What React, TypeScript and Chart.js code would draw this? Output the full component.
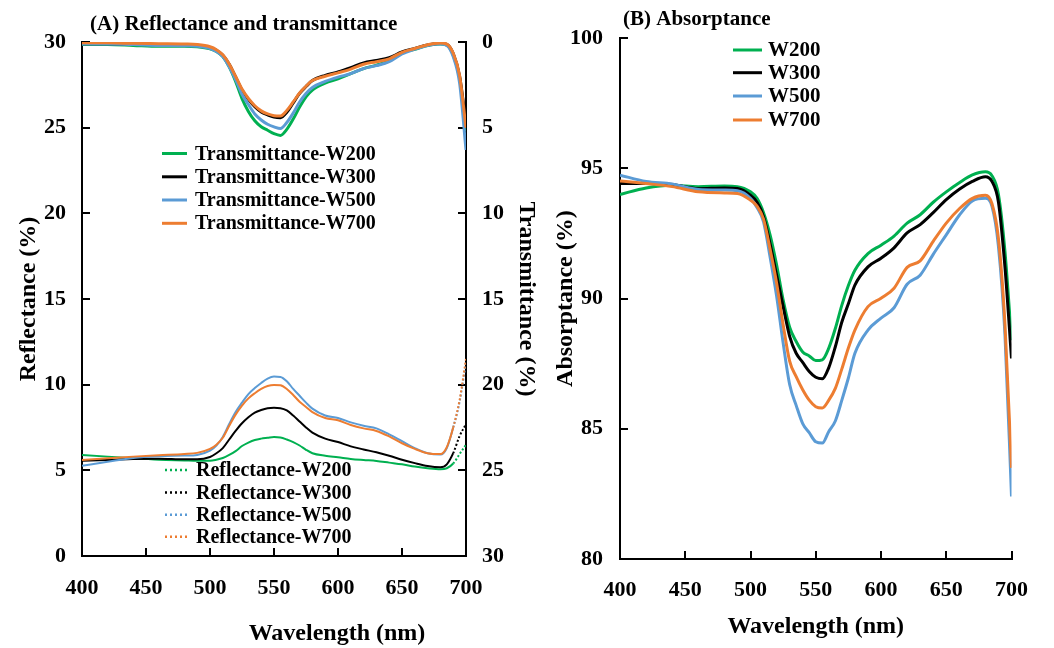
import React, { useEffect, useRef } from 'react';
import { Chart, registerables } from 'chart.js';

Chart.register(...registerables);

// ---------------- DATA ----------------
const wavelengths = [400, 420, 440, 460, 480, 490, 500, 505, 510, 515, 520, 525, 530, 535, 540, 545, 550, 555, 560, 565, 570, 575, 580, 590, 600, 610, 620, 630, 640, 650, 660, 670, 680, 685, 690, 695, 700];

const seriesNames = ['W200', 'W300', 'W500', 'W700'];

// Transmittance (%) – right axis, reversed
const transW200 = [0.15, 0.15, 0.2, 0.25, 0.25, 0.28, 0.4, 0.55, 0.85, 1.45, 2.3, 3.3, 4.05, 4.6, 4.95, 5.15, 5.35, 5.45, 5.1, 4.5, 3.8, 3.2, 2.8, 2.4, 2.15, 1.85, 1.55, 1.35, 1.1, 0.62, 0.42, 0.2, 0.12, 0.18, 0.75, 2.1, 5.2];
const transW300 = [0.1, 0.1, 0.12, 0.15, 0.18, 0.2, 0.32, 0.48, 0.78, 1.3, 2.05, 2.8, 3.35, 3.78, 4.08, 4.25, 4.38, 4.42, 4.1, 3.55, 3.0, 2.6, 2.25, 1.95, 1.75, 1.5, 1.22, 1.08, 0.92, 0.58, 0.38, 0.18, 0.08, 0.14, 0.68, 2.0, 4.8];
const transW500 = [0.12, 0.12, 0.15, 0.2, 0.22, 0.25, 0.38, 0.55, 0.85, 1.45, 2.2, 3.05, 3.65, 4.2, 4.55, 4.8, 4.95, 5.05, 4.7, 4.15, 3.5, 3.0, 2.65, 2.3, 2.05, 1.85, 1.55, 1.38, 1.15, 0.7, 0.42, 0.2, 0.12, 0.2, 0.85, 2.4, 6.3];
const transW700 = [0.05, 0.05, 0.08, 0.1, 0.12, 0.15, 0.28, 0.45, 0.75, 1.28, 2.0, 2.75, 3.3, 3.72, 4.02, 4.2, 4.3, 4.32, 4.0, 3.5, 2.98, 2.58, 2.25, 2.0, 1.8, 1.58, 1.3, 1.15, 0.98, 0.6, 0.38, 0.16, 0.06, 0.12, 0.65, 1.95, 5.0];

// Reflectance (%) – left axis
const reflW200 = [5.9, 5.8, 5.7, 5.62, 5.58, 5.56, 5.56, 5.62, 5.72, 5.9, 6.12, 6.42, 6.62, 6.77, 6.85, 6.9, 6.95, 6.92, 6.8, 6.65, 6.45, 6.2, 6.0, 5.85, 5.76, 5.66, 5.6, 5.55, 5.45, 5.35, 5.22, 5.12, 5.06, 5.12, 5.4, 5.95, 6.5];
const reflW300 = [5.56, 5.6, 5.66, 5.68, 5.64, 5.64, 5.78, 6.0, 6.3, 6.8, 7.3, 7.75, 8.1, 8.37, 8.52, 8.62, 8.65, 8.63, 8.5, 8.2, 7.85, 7.5, 7.2, 6.85, 6.65, 6.4, 6.22, 6.05, 5.85, 5.62, 5.42, 5.25, 5.18, 5.35, 6.0, 7.0, 7.7];
const reflW500 = [5.27, 5.5, 5.72, 5.82, 5.86, 5.9, 6.15, 6.45, 6.95, 7.7, 8.4, 8.95, 9.45, 9.8, 10.1, 10.35, 10.47, 10.45, 10.2, 9.75, 9.35, 8.95, 8.6, 8.2, 8.05, 7.8, 7.6, 7.45, 7.1, 6.7, 6.3, 6.0, 5.92, 6.3, 7.5, 9.0, 11.3];
const reflW700 = [5.6, 5.7, 5.8, 5.88, 5.95, 6.02, 6.25, 6.5, 6.9, 7.6, 8.25, 8.78, 9.2, 9.5, 9.75, 9.92, 9.98, 9.96, 9.75, 9.4, 9.0, 8.7, 8.4, 8.05, 7.92, 7.65, 7.45, 7.3, 6.98, 6.58, 6.25, 6.0, 5.95, 6.35, 7.5, 9.1, 11.5];

// Absorptance (%)
const absW200 = [94.0, 94.25, 94.35, 94.3, 94.32, 94.3, 94.1, 93.85, 93.3, 92.45, 91.3, 89.95, 88.9, 88.35, 87.95, 87.8, 87.62, 87.65, 88.1, 88.85, 89.75, 90.5, 91.09, 91.73, 92.05, 92.4, 92.9, 93.22, 93.7, 94.1, 94.45, 94.75, 94.87, 94.72, 94.0, 91.8, 88.4];
const absW300 = [94.42, 94.42, 94.38, 94.22, 94.25, 94.23, 93.97, 93.7, 93.15, 92.1, 90.9, 89.7, 88.55, 87.9, 87.55, 87.2, 86.98, 86.92, 87.35, 88.15, 89.1, 89.8, 90.52, 91.22, 91.55, 91.95, 92.52, 92.84, 93.3, 93.8, 94.2, 94.5, 94.68, 94.5, 93.7, 91.2, 87.7];
const absW500 = [94.74, 94.5, 94.4, 94.19, 94.17, 94.14, 93.85, 93.5, 92.95, 91.6, 90.1, 88.3, 86.7, 85.9, 85.2, 84.85, 84.5, 84.45, 84.9, 85.3, 86.1, 86.95, 87.9, 88.79, 89.25, 89.65, 90.55, 90.9, 91.7, 92.45, 93.2, 93.75, 93.85, 93.55, 92.0, 88.6, 82.4];
const absW700 = [94.52, 94.42, 94.3, 94.1, 94.06, 94.04, 93.78, 93.55, 93.05, 91.9, 90.6, 89.0, 87.6, 87.0, 86.5, 86.1, 85.85, 85.8, 86.1, 86.55, 87.3, 88.1, 88.79, 89.69, 90.01, 90.4, 91.2, 91.45, 92.2, 92.9, 93.45, 93.85, 93.97, 93.65, 92.3, 89.0, 83.5];

const xTicksA = [400, 700, 50];
const reflAxis = [0, 30, 5];
const transAxis = [0, 30, 5];
const absAxis = [80, 100, 5];

// ---------------- STYLE ----------------
const SERIF = '"Liberation Serif", "Times New Roman", Times, serif';
const COLORS = ['#00B050', '#000000', '#5B9BD5', '#ED7D31'];
const ORDER = [4, 3, 2, 1];

const tickFont = { family: SERIF, size: 22, weight: 'bold' as const };
const axisTitleFont = { family: SERIF, size: 24, weight: 'bold' as const };

const gridOpts = () => ({
  drawOnChartArea: false,
  drawTicks: true,
  tickLength: -8,
  tickColor: '#000',
  tickWidth: 2,
  color: '#000',
  lineWidth: 2,
});
const borderOpts = () => ({ display: true, color: '#000', width: 2 });

const pts = (ys: number[]) => wavelengths.map((x, i) => ({ x, y: ys[i] }));

function drawLegendRows(
  ctx: CanvasRenderingContext2D,
  rows: { text: string; color: string }[],
  x0: number, x1: number, tx: number, ys: number[],
  lineWidth: number, dash: number[], fontSize: number,
) {
  rows.forEach((r, i) => {
    ctx.save();
    ctx.strokeStyle = r.color;
    ctx.lineWidth = lineWidth;
    ctx.setLineDash(dash);
    ctx.beginPath();
    ctx.moveTo(x0, ys[i]);
    ctx.lineTo(x1, ys[i]);
    ctx.stroke();
    ctx.restore();
    ctx.fillStyle = '#000';
    ctx.font = `bold ${fontSize}px ${SERIF}`;
    ctx.textAlign = 'left';
    ctx.textBaseline = 'middle';
    ctx.fillText(r.text, tx, ys[i] + 1);
  });
}

const overlayA = {
  id: 'overlayA',
  afterDraw(chart: any) {
    const ctx: CanvasRenderingContext2D = chart.ctx;
    ctx.save();
    ctx.fillStyle = '#000';
    ctx.font = `bold 21px ${SERIF}`;
    ctx.textAlign = 'left';
    ctx.textBaseline = 'alphabetic';
    ctx.fillText('(A) Reflectance and transmittance', 90, 30);

    drawLegendRows(ctx, seriesNames.map((n, i) => ({ text: 'Transmittance-' + n, color: COLORS[i] })),
      162, 187, 195, [153.5, 176.8, 200, 223.3], 3, [], 20);
    drawLegendRows(ctx, seriesNames.map((n, i) => ({ text: 'Reflectance-' + n, color: COLORS[i] })),
      165, 190, 196, [470, 492.5, 514.7, 536.7], 2.5, [2, 3], 20);

    ctx.fillStyle = '#000';
    ctx.font = `bold 24px ${SERIF}`;
    ctx.textAlign = 'center';
    ctx.textBaseline = 'middle';
    ctx.fillText('Wavelength (nm)', 337, 634);
    ctx.restore();
  },
};

const overlayB = {
  id: 'overlayB',
  afterDraw(chart: any) {
    const ctx: CanvasRenderingContext2D = chart.ctx;
    ctx.save();
    ctx.fillStyle = '#000';
    ctx.font = `bold 21px ${SERIF}`;
    ctx.textAlign = 'left';
    ctx.textBaseline = 'alphabetic';
    ctx.fillText('(B) Absorptance', 83, 25);
    drawLegendRows(ctx, seriesNames.map((n, i) => ({ text: n, color: COLORS[i] })),
      193, 222, 228, [50, 72.7, 96, 120], 3, [], 21);
    ctx.restore();
  },
};

function PanelA() {
  const ref = useRef<HTMLCanvasElement>(null);
  useEffect(() => {
    const T = [transW200, transW300, transW500, transW700];
    const R = [reflW200, reflW300, reflW500, reflW700];
    const datasets: any[] = [];
    seriesNames.forEach((n, i) => {
      datasets.push({
        label: 'Transmittance-' + n, data: pts(T[i]), yAxisID: 'yT',
        borderColor: COLORS[i], backgroundColor: COLORS[i], borderWidth: 3,
        pointRadius: 0, cubicInterpolationMode: 'monotone', order: ORDER[i],
      });
    });
    seriesNames.forEach((n, i) => {
      datasets.push({
        label: 'Reflectance-' + n, data: pts(R[i]), yAxisID: 'yR',
        borderColor: COLORS[i], backgroundColor: COLORS[i], borderWidth: 2,
        pointRadius: 0, cubicInterpolationMode: 'monotone', order: ORDER[i] + 4,
        segment: { borderDash: (c: any) => (c.p0.parsed.x >= 690 ? [2, 2] : undefined) },
      });
    });
    const chart = new Chart(ref.current as HTMLCanvasElement, {
      type: 'line',
      data: { datasets },
      options: {
        responsive: false,
        animation: false,
        devicePixelRatio: 1,
        layout: { padding: { top: 42, left: 0, right: 0, bottom: 0 } },
        plugins: { legend: { display: false }, tooltip: { enabled: false } },
        scales: {
          x: {
            type: 'linear', min: xTicksA[0], max: xTicksA[1],
            ticks: { stepSize: xTicksA[2], font: tickFont, color: '#000', padding: 27, maxRotation: 0 },
            grid: gridOpts(), border: borderOpts(),
            afterFit: (s: any) => { s.height = 92; },
          },
          yR: {
            type: 'linear', position: 'left', min: reflAxis[0], max: reflAxis[1],
            ticks: { stepSize: reflAxis[2], font: tickFont, color: '#000', padding: 24 },
            grid: gridOpts(), border: borderOpts(),
            title: { display: true, text: 'Reflectance (%)', font: axisTitleFont, color: '#000', padding: { top: 14, bottom: 0 } },
            afterFit: (s: any) => { s.width = 82; },
          },
          yT: {
            type: 'linear', position: 'right', reverse: true, min: transAxis[0], max: transAxis[1],
            ticks: { stepSize: transAxis[2], font: tickFont, color: '#000', padding: 24 },
            grid: gridOpts(), border: borderOpts(),
            title: { display: true, text: 'Transmittance (%)', font: axisTitleFont, color: '#000', padding: { top: 9, bottom: 0 } },
            afterFit: (s: any) => { s.width = 84; },
          },
        },
      } as any,
      plugins: [overlayA],
    });
    return () => chart.destroy();
  }, []);
  return <canvas ref={ref} width={550} height={648} style={{ position: 'absolute', left: 0, top: 0, width: 550, height: 648 }} />;
}

function PanelB() {
  const ref = useRef<HTMLCanvasElement>(null);
  useEffect(() => {
    const A = [absW200, absW300, absW500, absW700];
    const datasets = seriesNames.map((n, i) => ({
      label: n, data: pts(A[i]),
      borderColor: COLORS[i], backgroundColor: COLORS[i], borderWidth: 3,
      pointRadius: 0, cubicInterpolationMode: 'monotone', order: ORDER[i],
    }));
    const chart = new Chart(ref.current as HTMLCanvasElement, {
      type: 'line',
      data: { datasets },
      options: {
        responsive: false,
        animation: false,
        devicePixelRatio: 1,
        layout: { padding: { top: 38, left: 0, right: 23, bottom: 0 } },
        plugins: { legend: { display: false }, tooltip: { enabled: false } },
        scales: {
          x: {
            type: 'linear', min: xTicksA[0], max: xTicksA[1],
            ticks: { stepSize: xTicksA[2], font: tickFont, color: '#000', padding: 26, maxRotation: 0 },
            grid: gridOpts(), border: borderOpts(),
            title: { display: true, text: 'Wavelength (nm)', font: axisTitleFont, color: '#000', padding: { top: 0, bottom: 7 } },
            afterFit: (s: any) => { s.height = 89; },
          },
          y: {
            type: 'linear', position: 'left', min: absAxis[0], max: absAxis[1],
            ticks: { stepSize: absAxis[2], font: tickFont, color: '#000', padding: 25 },
            grid: gridOpts(), border: borderOpts(),
            title: { display: true, text: 'Absorptance (%)', font: axisTitleFont, color: '#000', padding: { top: 11, bottom: 0 } },
            afterFit: (s: any) => { s.width = 80; },
          },
        },
      } as any,
      plugins: [overlayB],
    });
    return () => chart.destroy();
  }, []);
  return <canvas ref={ref} width={514} height={648} style={{ position: 'absolute', left: 540, top: 0, width: 514, height: 648 }} />;
}

export default function App() {
  return (
    <div style={{ position: 'absolute', left: 0, top: 0, width: 1054, height: 648, background: '#fff', overflow: 'hidden' }}>
      <PanelA />
      <PanelB />
    </div>
  );
}
